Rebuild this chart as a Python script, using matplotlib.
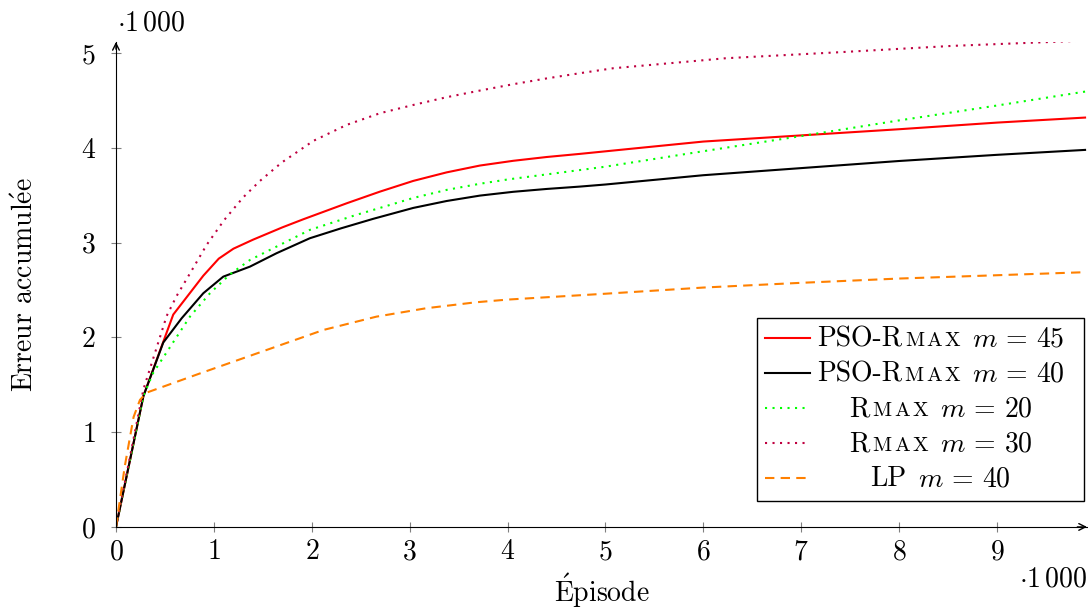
import matplotlib
matplotlib.use('Agg')
import matplotlib.pyplot as plt
from matplotlib.lines import Line2D
from matplotlib.offsetbox import TextArea, HPacker, VPacker, DrawingArea, AnchoredOffsetbox

plt.rcParams['font.family'] = 'cmr10'
plt.rcParams['mathtext.fontset'] = 'cm'
plt.rcParams['axes.formatter.use_mathtext'] = True
plt.rcParams['font.size'] = 20

# cumulative error per episode
ep_pso45 = [0, 280, 585, 892, 1050, 1200, 1400, 1700, 1913, 2357, 2697, 3037, 3378, 3718, 4058, 4399, 4739, 5000, 6000, 7000, 8000, 9000, 9900]
err_pso45 = [0, 1380, 2240, 2650, 2830, 2935, 3030, 3160, 3245, 3414, 3537, 3650, 3740, 3812, 3862, 3902, 3935, 3962, 4065, 4130, 4195, 4265, 4318]

ep_pso40 = [0, 280, 483, 671, 892, 1096, 1369, 1640, 1980, 2300, 2628, 3037, 3378, 3718, 4058, 4399, 4739, 5000, 6000, 7000, 8000, 9000, 9900]
err_pso40 = [0, 1380, 1945, 2201, 2465, 2640, 2746, 2887, 3045, 3150, 3250, 3365, 3438, 3495, 3535, 3565, 3590, 3612, 3710, 3785, 3860, 3925, 3977]

ep_rmax20 = [0, 280, 380, 756, 960, 1165, 1369, 1640, 1980, 2450, 2697, 3037, 3378, 3718, 4000, 4500, 5000, 6000, 7000, 8000, 9000, 9900]
err_rmax20 = [0, 1380, 1625, 2219, 2465, 2665, 2816, 2957, 3133, 3290, 3365, 3470, 3555, 3620, 3665, 3732, 3800, 3963, 4123, 4288, 4445, 4592]

ep_rmax30 = [0, 280, 518, 620, 773, 926, 1106, 1300, 1471, 1692, 2016, 2357, 2697, 3037, 3378, 3718, 4058, 4399, 4739, 5077, 6231, 7385, 8539, 9900]
err_rmax30 = [0, 1450, 2226, 2437, 2704, 2975, 3238, 3477, 3650, 3843, 4072, 4241, 4364, 4451, 4533, 4603, 4670, 4731, 4786, 4838, 4944, 5007, 5074, 5130]

ep_lp40 = [0, 90, 180, 245, 314, 860, 1540, 2120, 2390, 2660, 3170, 3680, 4000, 5000, 6000, 7000, 8000, 9000, 9900]
err_lp40 = [0, 640, 1160, 1340, 1417, 1620, 1867, 2078, 2148, 2218, 2307, 2370, 2398, 2460, 2525, 2575, 2620, 2655, 2687]

series = [
    (ep_pso45, err_pso45, ('PSO-R', 'MAX', ' $m\\,=\\,45$'), dict(color='#ff0000', lw=1.5, ls='-')),
    (ep_pso40, err_pso40, ('PSO-R', 'MAX', ' $m\\,=\\,40$'), dict(color='black', lw=1.5, ls='-')),
    (ep_rmax20, err_rmax20, ('R', 'MAX', ' $m\\,=\\,20$'), dict(color='#00ff00', lw=1.5, ls=(0, (1, 2.6)))),
    (ep_rmax30, err_rmax30, ('R', 'MAX', ' $m\\,=\\,30$'), dict(color='#bf0040', lw=1.5, ls=(0, (1, 2.6)))),
    (ep_lp40, err_lp40, ('LP', '', ' $m\\,=\\,40$'), dict(color='#ff8000', lw=1.5, ls=(0, (4.5, 3)))),
]

fig = plt.figure(figsize=(10.88, 6.12), dpi=100)
ax = fig.add_axes([0.1066, 0.139, 0.8925, 0.7925])

for ep, err, lab, st in series:
    ax.plot([e / 1000 for e in ep], [v / 1000 for v in err], **st)

ax.set_xlim(0, 9.92)
ax.set_ylim(0, 5.116)
ax.set_xticks(range(0, 10))
ax.set_yticks(range(0, 6))
ax.spines['top'].set_visible(False)
ax.spines['right'].set_visible(False)
ax.tick_params(direction='inout', length=7, width=0.8, color='0.5', pad=5)
ax.tick_params(axis='y', pad=11)
for end, start in [((1, 0), (0.99, 0)), ((0, 1), (0, 0.985))]:
    ax.annotate('', xy=end, xytext=start, xycoords='axes fraction',
                arrowprops=dict(arrowstyle='->', lw=1, shrinkA=0, shrinkB=0, mutation_scale=12))

ax.set_xlabel('$\\mathrm{\\acute{E}}$pisode')
ax.set_ylabel('Erreur accumul$\\mathrm{\\acute{e}}$e')
ax.xaxis.set_label_coords(0.5, -0.09)
ax.yaxis.set_label_coords(-0.079, 0.5)
ax.text(0.001, 1.039, '$\\cdot 1\\,000$', transform=ax.transAxes, ha='left', va='center')
ax.text(1.0, -0.108, '$\\cdot 1\\,000$', transform=ax.transAxes, ha='right', va='center')

# legend with small caps "Rmax" and centred labels
renderer = fig.canvas.get_renderer()
text_rows = []
for ep, err, lab, st in series:
    parts = [TextArea(lab[0], textprops=dict(fontsize=20))]
    if lab[1]:
        caps = [TextArea(c, textprops=dict(fontsize=15)) for c in lab[1]]
        parts.append(HPacker(children=caps, align='baseline', pad=0, sep=1.8))
    parts.append(TextArea(lab[2], textprops=dict(fontsize=20)))
    row = HPacker(children=parts, align='baseline', pad=0, sep=2)
    row.set_figure(fig)
    text_rows.append(row)
row_h = max(r.get_bbox(renderer).height for r in text_rows) * 72 / fig.dpi
row_sep = 35 * 72 / fig.dpi - row_h

line_rows = []
for ep, err, lab, st in series:
    da = DrawingArea(32, row_h, 0, 0)
    da.add_artist(Line2D([0, 32], [row_h * 0.55, row_h * 0.55], **st))
    line_rows.append(da)

lines_col = VPacker(children=line_rows, align='left', pad=0, sep=row_sep)
texts_col = VPacker(children=text_rows, align='center', pad=0, sep=row_sep)
box = HPacker(children=[lines_col, texts_col, DrawingArea(3, row_h, 0, 0)], align='top', pad=0, sep=5)
leg = AnchoredOffsetbox(loc='lower right', child=box, pad=0.3, borderpad=0, frameon=True,
                        bbox_to_anchor=(0.997, 0.054), bbox_transform=ax.transAxes)
leg.patch.set_edgecolor('black')
leg.patch.set_linewidth(1)
ax.add_artist(leg)

plt.savefig('out.png', dpi=100)
plt.close()
